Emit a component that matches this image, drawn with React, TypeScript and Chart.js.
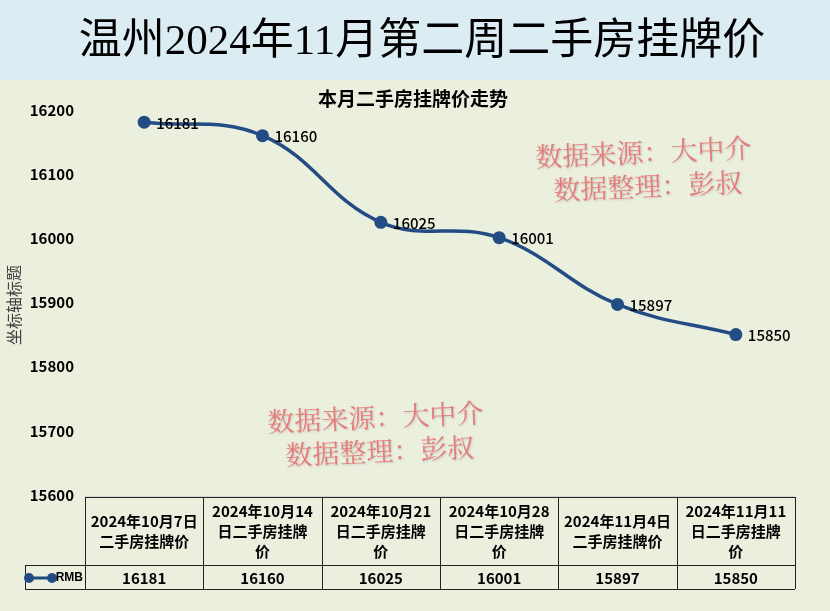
import React, { useEffect, useRef } from "react";
import { Chart, registerables } from "chart.js";

Chart.register(...registerables);

const pageTitle = "温州2024年11月第二周二手房挂牌价";
const chartTitle = "本月二手房挂牌价走势";
const axisTitle = "坐标轴标题";
const seriesName = "RMB";
const categories: string[][] = [
  ["2024年10月7日", "二手房挂牌价"],
  ["2024年10月14", "日二手房挂牌", "价"],
  ["2024年10月21", "日二手房挂牌", "价"],
  ["2024年10月28", "日二手房挂牌", "价"],
  ["2024年11月4日", "二手房挂牌价"],
  ["2024年11月11", "日二手房挂牌", "价"],
];
const prices = [16181, 16160, 16025, 16001, 15897, 15850];
const yMin = 15600;
const yMax = 16200;
const yStep = 100;
const watermarkLines = ["数据来源：大中介", "数据整理：彭叔"];

const LINE = "#234c84";
const CJK = '"Noto Sans CJK SC", "Noto Sans", sans-serif';

const decorPlugin = {
  id: "decor",
  beforeDraw(chart: any) {
    const { ctx, width, height, chartArea } = chart;
    ctx.save();
    ctx.fillStyle = "#ebefde";
    ctx.fillRect(0, 0, width, height);
    ctx.fillStyle = "#dbedf3";
    ctx.fillRect(0, 0, width, 80);
    // page title
    ctx.fillStyle = "#000";
    ctx.font = '43px "Liberation Serif", ' + CJK;
    ctx.textAlign = "center";
    ctx.textBaseline = "middle";
    ctx.fillText(pageTitle, 422, 43);
    // chart title
    ctx.font = "bold 19px " + CJK;
    ctx.fillText(chartTitle, 413, 99);
    // axis title
    ctx.save();
    ctx.translate(14, 305);
    ctx.rotate(-Math.PI / 2);
    ctx.fillStyle = "#404040";
    ctx.font = "16px " + CJK;
    ctx.fillText(axisTitle, 0, 0);
    ctx.restore();
    // baseline
    ctx.strokeStyle = "#d4d4d4";
    ctx.lineWidth = 1;
    ctx.beginPath();
    ctx.moveTo(chartArea.left, chartArea.bottom + 1.5);
    ctx.lineTo(chartArea.right, chartArea.bottom + 1.5);
    ctx.stroke();
    // watermarks
    const marks = [
      [644, 152],
      [376, 417],
    ];
    for (const [cx, cy] of marks) {
      ctx.save();
      ctx.translate(cx, cy + 17);
      ctx.rotate((-2.5 * Math.PI) / 180);
      ctx.font = '27px "Noto Serif CJK SC", ' + CJK;
      ctx.fillStyle = "rgba(232,112,112,0.9)";
      ctx.shadowColor = "rgba(120,120,120,0.35)";
      ctx.shadowBlur = 2;
      ctx.shadowOffsetX = 1;
      ctx.shadowOffsetY = 1;
      ctx.fillText(watermarkLines[0], 0, -17);
      ctx.fillText(watermarkLines[1], 3, 17);
      ctx.restore();
    }
    ctx.restore();
  },
  afterDraw(chart: any) {
    const { ctx, chartArea } = chart;
    const xs = chart.scales.x;
    const meta = chart.getDatasetMeta(0);
    const n = categories.length;
    const left = chartArea.left;
    const right = chartArea.right;
    const colW = (right - left) / n;
    const top = chartArea.bottom + 2;
    const mid = chartArea.bottom + 70;
    const bot = chartArea.bottom + 94;
    const legendLeft = 25;
    ctx.save();
    // data labels
    ctx.fillStyle = "#000";
    ctx.font = "500 15px " + CJK;
    ctx.textAlign = "left";
    ctx.textBaseline = "middle";
    meta.data.forEach((pt: any, i: number) => {
      ctx.fillText(String(prices[i]), pt.x + 12, pt.y + 1);
    });
    // table grid
    ctx.strokeStyle = "#222";
    ctx.lineWidth = 1;
    ctx.beginPath();
    ctx.moveTo(left, top + 0.5);
    ctx.lineTo(right, top + 0.5);
    ctx.moveTo(legendLeft, mid + 0.5);
    ctx.lineTo(right, mid + 0.5);
    ctx.moveTo(legendLeft, bot + 0.5);
    ctx.lineTo(right, bot + 0.5);
    ctx.moveTo(legendLeft + 0.5, mid);
    ctx.lineTo(legendLeft + 0.5, bot);
    for (let i = 0; i <= n; i++) {
      const x = Math.round(left + i * colW) + 0.5;
      ctx.moveTo(x, top);
      ctx.lineTo(x, bot);
    }
    ctx.stroke();
    // header text
    ctx.textAlign = "center";
    ctx.font = "bold 15px " + CJK;
    const lh = 20;
    categories.forEach((lines, i) => {
      const cx = xs.getPixelForValue(i);
      const cy = (top + mid) / 2;
      const start = cy - ((lines.length - 1) * lh) / 2;
      lines.forEach((l, j) => ctx.fillText(l, cx, start + j * lh));
    });
    // values
    ctx.font = "bold 15px " + CJK;
    const vy = (mid + bot) / 2 + 1;
    prices.forEach((v, i) => {
      ctx.fillText(String(v), xs.getPixelForValue(i), vy);
    });
    // legend
    ctx.strokeStyle = LINE;
    ctx.lineWidth = 3;
    ctx.beginPath();
    ctx.moveTo(29, vy);
    ctx.lineTo(52, vy);
    ctx.stroke();
    ctx.fillStyle = LINE;
    for (const x of [29, 52]) {
      ctx.beginPath();
      ctx.arc(x, vy, 5, 0, Math.PI * 2);
      ctx.fill();
    }
    ctx.fillStyle = "#000";
    ctx.textAlign = "right";
    ctx.font = 'bold 12px "Liberation Sans Narrow", "Liberation Sans", sans-serif';
    ctx.fillText(seriesName, 83, vy);
    ctx.restore();
  },
};

export default function App() {
  const ref = useRef<HTMLCanvasElement | null>(null);
  useEffect(() => {
    if (!ref.current) return;
    const chart = new Chart(ref.current, {
      type: "line",
      data: {
        labels: categories,
        datasets: [
          {
            label: seriesName,
            data: prices,
            borderColor: LINE,
            backgroundColor: LINE,
            borderWidth: 3.5,
            tension: 0.4,
            pointRadius: 6.5,
            pointBorderWidth: 0,
            pointBackgroundColor: LINE,
            fill: false,
          },
        ],
      },
      options: {
        responsive: false,
        animation: false,
        layout: { padding: { top: 110, bottom: 116, left: 0, right: 35 } },
        plugins: {
          legend: { display: false },
          title: { display: false },
          tooltip: { enabled: false },
        },
        scales: {
          x: { type: "category", display: false, offset: true },
          y: {
            min: yMin,
            max: yMax,
            grid: { display: false, drawTicks: false },
            border: { display: false },
            ticks: {
              stepSize: yStep,
              padding: 11,
              color: "#000",
              font: { family: CJK, size: 15, weight: "bold" },
              callback: (v: any) => String(v),
            },
            afterFit: (s: any) => {
              s.width = 85;
            },
          },
        },
      },
      plugins: [decorPlugin],
    });
    return () => chart.destroy();
  }, []);
  return (
    <div style={{ position: "fixed", left: 0, top: 0, width: 830, height: 611 }}>
      <canvas ref={ref} width={830} height={611} style={{ display: "block" }} />
    </div>
  );
}
